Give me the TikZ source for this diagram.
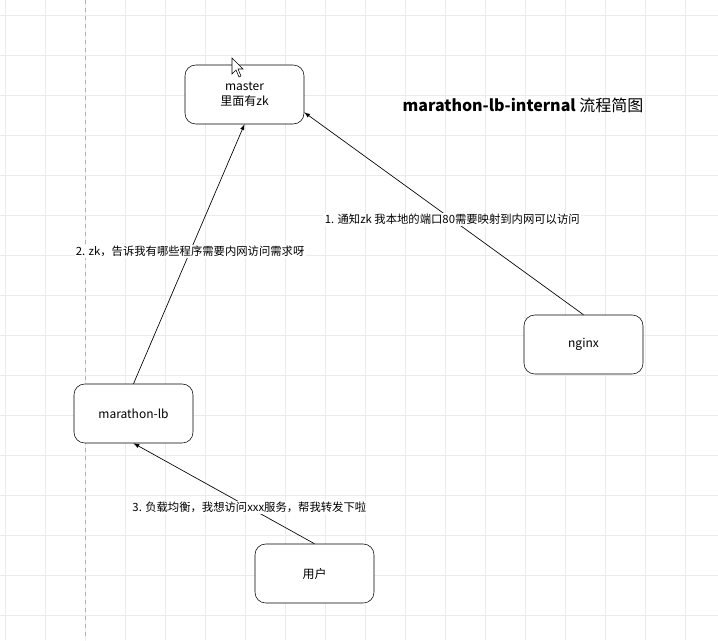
\documentclass[tikz,border=0pt]{standalone}
\usepackage{fontspec}
\setmainfont{Noto Sans CJK SC}
\usetikzlibrary{calc}
\tikzset{
  box/.style={draw,rounded corners=8pt,fill=white,minimum width=119*0.75pt,minimum height=59*0.75pt,align=center,font=\fontsize{9}{11}\selectfont},
  msg/.style={fill=white,inner sep=1pt,font=\fontsize{8.5}{10}\selectfont},
  flow/.style={-latex,line width=.5pt}
}
\begin{document}
\begin{tikzpicture}[x=0.75pt,y=-0.75pt]
  \useasboundingbox (0,0) rectangle (718,640);
  \fill[white] (0,0) rectangle (718,640);
  \foreach \g in {5,45,...,718} \draw[black!8] (\g,0) -- (\g,640);
  \foreach \g in {15,55,...,640} \draw[black!8] (0,\g) -- (718,\g);
  \draw[black!30,dashed] (85,0) -- (85,640);

  \node[box] (master) at (244.5,94.5) {master\\里面有zk};
  \node[box] (nginx) at (583.5,344.5) {nginx};
  \node[box] (lb) at (133.5,413.5) {marathon-lb};
  \node[box] (user) at (314.5,573.5) {用户};

  \node[font=\fontsize{12}{14}\selectfont] (title) at (523,105) {\textbf{marathon-lb-internal} 流程简图};

  \draw[flow] (nginx.north) -- ($(master.east)!0.6!(master.south east)$)
    node[msg,pos=0.47] (m1) {1. 通知zk 我本地的端口80需要映射到内网可以访问};
  \draw[flow] (lb.north) -- (master.south)
    node[msg,pos=0.51] (m2) {2. zk，告诉我有哪些程序需要内网访问需求呀};
  \draw[flow] (user.north) -- (lb.south)
    node[msg,pos=0.36] (m3) {3. 负载均衡，我想访问xxx服务，帮我转发下啦};

  % cursor
  \draw[fill=white,line width=.4pt] (232,58) -- (232,74) -- (236,70) -- (239,77) -- (241,76) -- (238,69) -- (243,69) -- cycle;
\end{tikzpicture}
\end{document}
